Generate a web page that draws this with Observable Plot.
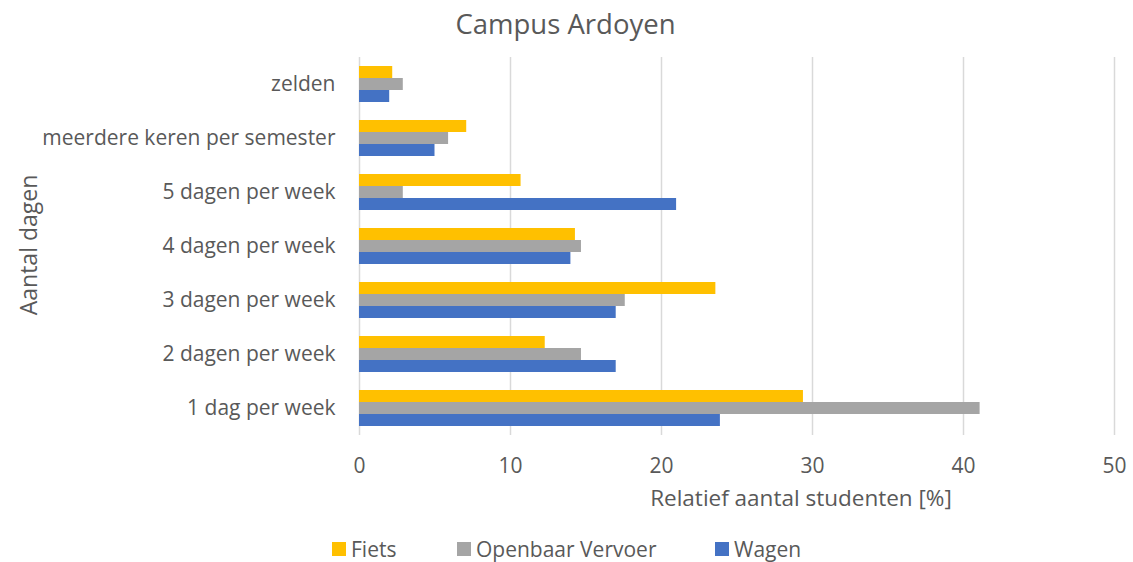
<!DOCTYPE html>
<html>
<head>
<meta charset="utf-8">
<script src="https://cdn.jsdelivr.net/npm/d3@7"></script>
<script src="https://cdn.jsdelivr.net/npm/@observablehq/plot@0.6"></script>
<style>
  body { margin: 0; background: #fff; }
  #wrap { position: relative; width: 1133px; height: 562px; font-family: "Open Sans", sans-serif; color: #595959; }
  .abs { position: absolute; white-space: nowrap; }
  #title { left: 0; width: 1133px; top: 5px; text-align: center; font-size: 27.5px; transform: translateX(-1px); }
  #ylab { left: 28px; top: 245px; font-size: 23px; transform: translate(-50%, -50%) rotate(-90deg); }
  #xlab { left: 801px; top: 497px; font-size: 22.5px; transform: translate(-50%, -50%); }
  #legend { left: 0; top: 535px; width: 1133px; height: 28px; font-size: 21px; }
  .item { position: absolute; top: 0; display: flex; align-items: center; height: 28px; }
  .sw { width: 14px; height: 14px; margin-right: 5px; display: inline-block; }
</style>
</head>
<body>
<div id="wrap">
  <div id="chart"></div>
  <div class="abs" id="title">Campus Ardoyen</div>
  <div class="abs" id="ylab">Aantal dagen</div>
  <div class="abs" id="xlab">Relatief aantal studenten [%]</div>
  <div class="abs" id="legend"></div>
</div>
<script>
const categories = ["zelden", "meerdere keren per semester", "5 dagen per week", "4 dagen per week", "3 dagen per week", "2 dagen per week", "1 dag per week"];
const seriesNames = ["Fiets", "Openbaar Vervoer", "Wagen"];
const seriesColors = ["#FFC000", "#A5A5A5", "#4472C4"];
const fiets = [2.2, 7.1, 10.7, 14.3, 23.6, 12.3, 29.4];
const openbaarVervoer = [2.9, 5.9, 2.9, 14.7, 17.6, 14.7, 41.1];
const wagen = [2.0, 5.0, 21.0, 14.0, 17.0, 17.0, 23.9];
const xTicks = [0, 10, 20, 30, 40, 50];

const seriesValues = [fiets, openbaarVervoer, wagen];
const rows = [];
categories.forEach((c, i) => {
  seriesNames.forEach((s, j) => rows.push({category: c, series: s, value: seriesValues[j][i]}));
});

const plot = Plot.plot({
  width: 1133,
  height: 562,
  marginLeft: 359,
  marginRight: 19,
  marginTop: 55,
  marginBottom: 125,
  style: {fontFamily: "'Open Sans', sans-serif", fontSize: "21px", color: "#595959", background: "white"},
  facet: {data: rows, y: "category"},
  fy: {domain: categories, padding: 0, label: null, axis: "left", tickSize: 0, tickPadding: 24},
  y: {domain: seriesNames, paddingInner: 0, paddingOuter: 0.75, axis: null},
  x: {domain: [0, 50], ticks: xTicks, tickSize: 0, tickPadding: 23, label: null, tickFormat: d => String(d)},
  color: {domain: seriesNames, range: seriesColors},
  marks: [
    Plot.ruleX(xTicks, {stroke: "#d9d9d9", strokeWidth: 1.5}),
    Plot.barX(rows, {x: "value", y: "series", fill: "series"})
  ]
});
document.getElementById("chart").appendChild(plot);

const legend = document.getElementById("legend");
const legendX = [332, 457, 715];
seriesNames.forEach((s, i) => {
  const it = document.createElement("div");
  it.className = "item";
  it.style.left = legendX[i] + "px";
  it.innerHTML = `<span class="sw" style="background:${seriesColors[i]}"></span><span>${s}</span>`;
  legend.appendChild(it);
});
</script>
</body>
</html>
